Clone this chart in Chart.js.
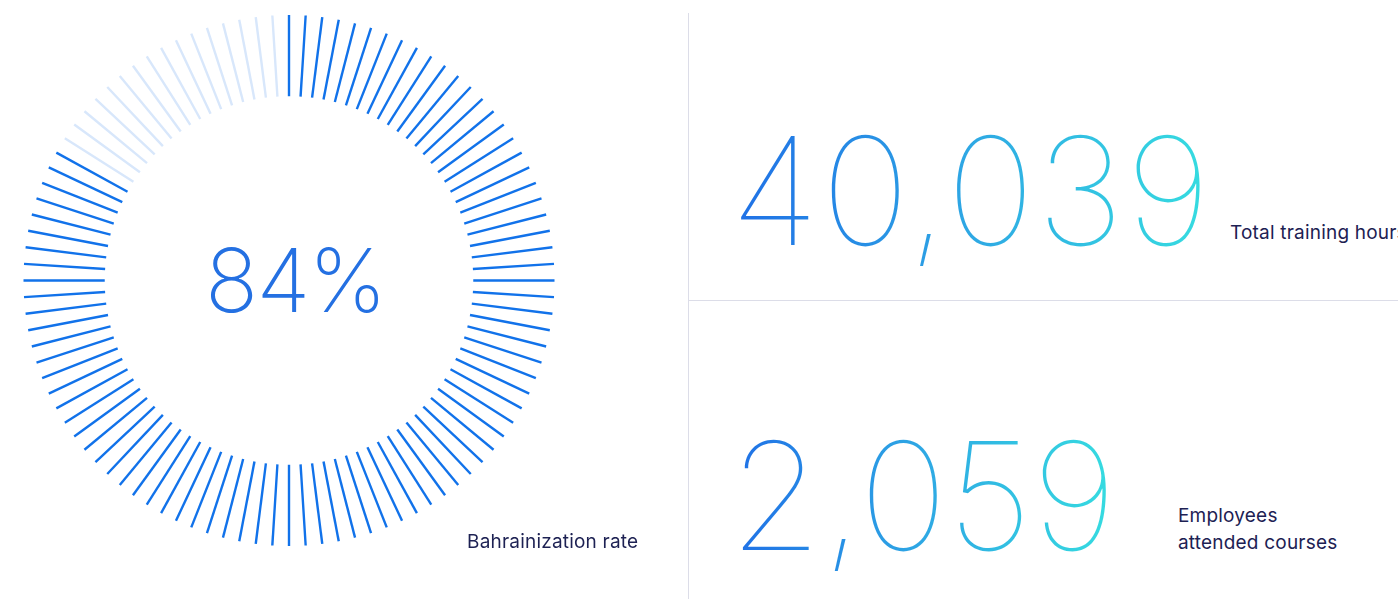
<!DOCTYPE html>
<html>
<head>
<meta charset="utf-8">
<script src="https://cdn.jsdelivr.net/npm/chart.js"></script>
<style>
  html, body { margin: 0; padding: 0; background: #fff; }
  body { width: 1398px; height: 599px; position: relative; overflow: hidden; font-family: Inter, "Noto Sans", sans-serif; }
  #gaugeBox { position: absolute; left: 0; top: 0; width: 578px; height: 561px; }
  .abs { position: absolute; white-space: nowrap; line-height: 1; }
  .big {
    font-weight: 140;
    font-size: 150px;
    background: linear-gradient(90deg, #1f6fe6 0%, #2ea8e4 50%, #36dde0 100%);
    -webkit-background-clip: text; background-clip: text; color: transparent;
  }
  .label { color: #1d2153; font-weight: 400; font-size: 19px; letter-spacing: 0.2px; }
  .vline { position: absolute; left: 688px; top: 13px; width: 1px; height: 586px; background: #dcdde8; }
  .hline { position: absolute; left: 688px; top: 300px; width: 710px; height: 1px; background: #dcdde8; }
</style>
</head>
<body>
<div id="gaugeBox"><canvas id="Chart"></canvas></div>
<div class="abs" id="gaugeText" style="left:205px; top:236px; font-size:88px; font-weight:190; letter-spacing:-0.02em; color:#2470e2;"></div>
<div class="abs label" id="gaugeLabel" style="left:467px; top:532px;"></div>

<div class="vline"></div>
<div class="hline"></div>

<div class="abs big" id="stat0" style="left:730px; top:116px; letter-spacing:0.012em;"></div>
<div class="abs label" id="statLabel0" style="left:1230px; top:223px;"></div>
<div class="abs big" id="stat1" style="left:729px; top:421px; letter-spacing:0;"></div>
<div class="abs label" id="statLabel1" style="left:1178px; top:502px; line-height:27px;"></div>

<script>
// gauge: share of ticks filled
const gaugeLabels = ['Bahrainization rate', 'Other'];
const gaugeValues = [84, 16];
const tickCount = 100;

// headline numbers on the right
const statValues = [40039, 2059];
const statLabels = ['Total training hours', 'Employees<br>attended courses'];

const tickColors = ['#1172ea', '#d8e7fb'];

const chartCanvas = document.getElementById('Chart');
const ctx = chartCanvas.getContext('2d');

// draw each arc as a run of radial ticks instead of a wedge
const tickMarks = {
  id: 'tickMarks',
  beforeDatasetDraw() {
    return false;
  },
  afterDatasetsDraw(chart) {
    const c = chart.ctx;
    const meta = chart.getDatasetMeta(0);
    const step = 2 * Math.PI / tickCount;
    c.save();
    c.lineWidth = 2.4;
    c.lineCap = 'butt';
    meta.data.forEach((arc) => {
      const p = arc.getProps(['x', 'y', 'startAngle', 'endAngle', 'innerRadius', 'outerRadius'], true);
      const n = Math.round((p.endAngle - p.startAngle) / step);
      c.strokeStyle = arc.options.backgroundColor;
      for (let k = 0; k < n; k++) {
        const a = p.startAngle + k * step;
        c.beginPath();
        c.moveTo(p.x + Math.cos(a) * p.innerRadius, p.y + Math.sin(a) * p.innerRadius);
        c.lineTo(p.x + Math.cos(a) * p.outerRadius, p.y + Math.sin(a) * p.outerRadius);
        c.stroke();
      }
    });
    c.restore();
  }
};

const chart = new Chart(ctx, {
  type: 'doughnut',
  data: {
    labels: gaugeLabels,
    datasets: [{
      data: gaugeValues,
      backgroundColor: tickColors,
      borderWidth: 0
    }]
  },
  options: {
    responsive: true,
    maintainAspectRatio: false,
    animation: false,
    cutout: '69.4%',
    layout: { padding: 15 },
    plugins: {
      legend: { display: false },
      tooltip: { enabled: false }
    }
  },
  plugins: [tickMarks]
});

document.getElementById('gaugeText').textContent = gaugeValues[0] + '%';
document.getElementById('gaugeLabel').textContent = gaugeLabels[0];
statValues.forEach((v, i) => {
  document.getElementById('stat' + i).textContent = v.toLocaleString('en-US');
  document.getElementById('statLabel' + i).innerHTML = statLabels[i];
});
</script>
</body>
</html>
